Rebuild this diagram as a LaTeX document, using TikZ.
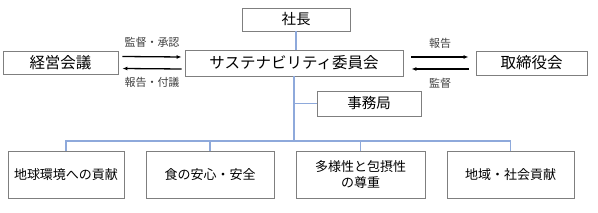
\documentclass[tikz,border=0pt]{standalone}
\usepackage{fontspec}
\setmainfont{Noto Sans CJK JP}
\usetikzlibrary{arrows.meta,calc}
\definecolor{caja}{HTML}{7F7F7F}
\definecolor{rama}{HTML}{8EA9DB}
\definecolor{rotulo}{HTML}{404040}
\begin{document}
\begin{tikzpicture}[x=1pt, y=-1pt,
    caja/.style={draw=caja, line width=0.9pt, fill=white, inner sep=0pt, align=center},
    grande/.style={caja, font=\fontsize{15.5}{18}\selectfont},
    media/.style={caja, font=\fontsize{14.5}{17}\selectfont},
    tema/.style={caja, minimum height=47pt, font=\fontsize{13}{16}\selectfont},
    rama/.style={draw=rama, line width=1.3pt},
    flecha/.style={-{Latex[length=5pt,width=4pt]}, line width=1.3pt},
    rotulo/.style={text=rotulo, font=\fontsize{11}{13}\selectfont}]

        \useasboundingbox (0,0) rectangle (598,213);

        % Cajas superiores
        \node[media, minimum width=108pt, minimum height=23pt] (shacho) at (296,19.5) {社長};
        \node[grande, minimum width=218pt, minimum height=26pt] (iinkai) at (294,63) {サステナビリティ委員会};
        \node[grande, minimum width=115pt, minimum height=23pt] (keiei) at (60.5,62.5) {経営会議};
        \node[grande, minimum width=111pt, minimum height=24pt] (torishimari) at (531.5,63) {取締役会};
        \node[media, minimum width=104pt, minimum height=25pt] (jimu) at (369,103.5) {事務局};

        % Temas (fila inferior)
        \node[tema, minimum width=116pt] (g1) at (66,174.5) {地球環境への貢献};
        \node[tema, minimum width=128pt] (g2) at (210,174.5) {食の安心・安全};
        \node[tema, minimum width=129pt] (g3) at (360.5,174.5) {多様性と包摂性\\の尊重};
        \node[tema, minimum width=127pt] (g4) at (510.5,174.5) {地域・社会貢献};

        \coordinate (hub) at (295,141);

        % Lineas del organigrama
        \draw[rama] (shacho.south) -- (shacho.south |- iinkai.north);
        \draw[rama] (iinkai.south) -- (iinkai.south |- hub);
        \draw[rama] (iinkai.south |- jimu.west) -- (jimu.west);
        \draw[rama] (g1.north) |- (g4.north |- hub) -- (g4.north);
        \foreach \g in {g2,g3}
            \draw[rama] (\g.north) -- (\g.north |- hub);

        % Flechas con el consejo
        \draw[flecha] ($(keiei.east)+(4,-6)$) -- ($(iinkai.west)+(-3,-6)$)
            node[rotulo, midway, above=5pt] {監督・承認};
        \draw[flecha] ($(iinkai.west)+(-3,6)$) -- ($(keiei.east)+(4,6)$)
            node[rotulo, midway, below=5pt] {報告・付議};

        % Flechas con el directorio
        \draw[flecha] ($(iinkai.east)+(8,-6)$) -- ($(torishimari.west)+(-7,-6)$)
            node[rotulo, midway, above=5pt] {報告};
        \draw[flecha] ($(torishimari.west)+(-7,6)$) -- ($(iinkai.east)+(8,6)$)
            node[rotulo, midway, below=5pt] {監督};

    \end{tikzpicture}
\end{document}
